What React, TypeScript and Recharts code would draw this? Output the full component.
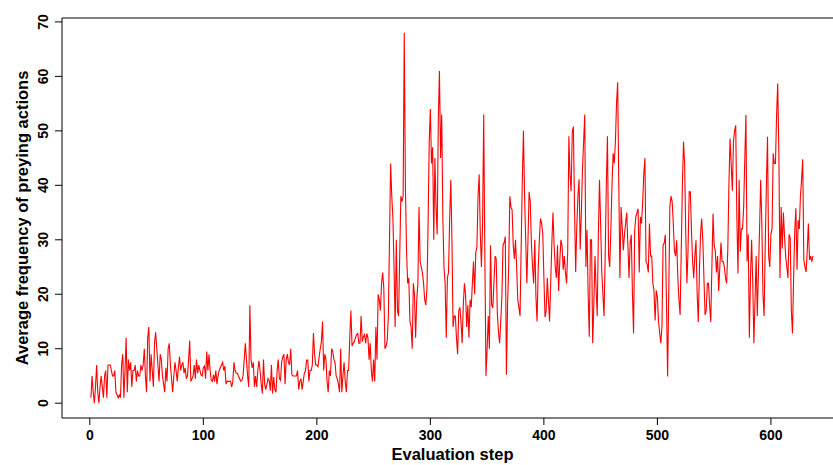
import React from 'react'
import { LineChart, Line, XAxis, YAxis, ReferenceLine } from 'recharts'

// ── data (one value per evaluation step) ──
// steps 1-250: low, noisy phase
const freqEarly = [
  1, 5, 2, 0, 3, 7, 2, 0, 3, 5,
  3, 1, 5, 6, 1, 7, 7, 7, 6, 5,
  5, 6, 2, 1.5, 1, 1.5, 1, 7, 9, 1,
  6, 12, 2, 8, 6, 7.5, 3, 6, 6, 7,
  4, 6, 5, 5, 7, 6, 7, 10, 5, 2,
  12, 14, 4, 9, 6, 3, 11, 13, 10, 7, 4,
  9, 8, 5, 3.5, 2, 6.5, 4, 10, 11,
  7, 4.5, 2, 5, 7.5, 6, 4, 6.5, 8.5, 6,
  7, 7.5, 5.5, 6.5, 4.5, 5, 8, 11.5, 4, 4.5,
  5, 7, 4.5, 8, 5.5, 7, 6, 5.2, 5, 6.5,
  6.8, 4.5, 9.5, 6, 9, 6, 4.2, 4, 5.2, 4,
  6, 3.5, 5, 6, 6.5, 7, 7.5, 6, 6.8, 3.5,
  4, 4, 4, 4, 3, 4,
  7.5, 6, 5.5, 5.5, 5, 4.5, 4, 4.2, 5, 8, 11, 8, 5, 3,
  18, 8, 6.5, 7.5, 3, 5, 3, 6, 7.8, 6,
  3.5, 1.8, 8, 3.5, 2.5, 3.5, 4.5, 4.2, 2.3, 7,
  1.8, 4.8, 2.5, 2, 6, 8, 4.5, 4.2, 7.5, 8.5,
  9, 3.5, 8, 9, 7.5, 7, 10, 5.2, 5, 5,
  5, 5, 6, 2.5, 4, 4.5, 2.5, 4, 5.5, 6,
  7.9, 7.9, 4, 6, 6, 7, 12.9, 9, 7, 7,
  6.7, 8.5, 10, 11.3, 15, 6, 9, 8, 4, 2,
  6, 5, 10, 9.5, 8, 7.5, 5, 4.5, 3.5, 2,
  10, 2, 5, 7.5, 4, 2, 6, 6, 12, 17,
  10.5, 11, 11.3, 12, 12.6, 12.8, 11, 11, 16, 11.3,
  12.2, 12.6, 11, 12.8, 12, 8, 11, 6, 4, 8,
]

// steps 251-320: sharp rise
const freqRise = [
  4, 14, 8, 20,
  19, 17, 22, 24, 21, 10,
  10.5, 11.5, 16, 30, 44, 38, 34, 25, 14, 30,
  17, 16, 27, 38, 37, 38, 68, 40, 28, 22,
  23, 15, 14, 10, 22, 20, 12, 19, 22, 36,
  26, 25, 24, 22, 19, 18, 21, 33, 48, 54,
  44, 47, 30, 45, 36, 31, 52, 61, 45, 53,
  34, 25, 22, 12, 23, 24, 34, 41, 30, 14,
]

// steps 321-637: high, very noisy phase
const freqLate = [
  16, 16, 12, 9, 17, 17.6, 15, 11, 18, 22,
  20, 14, 18, 12, 19, 17.6, 22, 26, 20, 27.7,
  28.6, 38, 42, 31, 25, 33, 53, 27, 5, 10,
  16, 10, 29, 18, 17.5, 22, 27, 26.5, 16.5, 13,
  11, 15, 19.5, 29, 29.5, 30.6, 5.2, 18, 25, 38,
  36, 35.5, 29, 26.5, 30, 25, 19, 17.5, 16, 28.8,
  41, 50,
  38, 30, 22, 30, 38.8, 37, 29.4, 25,
  22, 30, 19.6, 15, 24.5, 30, 33.9, 33, 31.3, 23.2,
  15.8, 17, 23, 19, 15, 22, 29.3, 35, 29, 25,
  23, 29, 20.6, 26, 30, 29, 24.5, 27, 24, 22,
  28, 49, 42, 38.9, 49.8, 50.8, 36, 24.1, 32.5, 38,
  41.1, 28.2, 35, 42.8, 48, 53, 25, 31.8, 20, 12.2,
  30, 30, 11, 18, 27, 21, 16,
  31, 41, 33, 24, 20, 16, 27, 40, 49, 27, 25, 31.8, 40,
  45.9, 44, 48, 55, 58.9, 40, 23, 36, 32.4, 28.1,
  31, 33, 35, 29, 23, 29.4, 30.9, 20.1, 12.8, 31.8,
  34.2, 35, 35.7, 24, 34.2, 33, 36.7, 42, 45, 26,
  25.5, 24, 33, 27, 27, 22, 20.7, 15.2, 20.7, 19.5,
  15, 13, 11, 14, 29, 29.4, 30.9, 18.3, 4.9, 20, 36.2, 38,
  37, 33, 28, 27, 29.9, 23, 19, 16.2,
  28, 40, 48, 44, 31, 22, 28, 38.8, 38.8, 32,
  26, 23, 27, 29.9, 20.3, 14.9, 24, 31, 33.9, 30,
  23, 16.2, 17, 22, 22, 18, 14.9, 25, 34.8, 29,
  28, 24, 27, 20.6, 25, 29.5, 26, 26, 25, 23,
  22, 28, 40, 48.6, 44, 39, 48, 50, 51, 34,
  23.8, 41, 27.8, 32,
  32, 36, 45, 52.9, 26, 31,
  12, 23, 30, 22, 11, 19, 27, 16, 24, 32,
  41, 33, 20, 16, 29, 40, 48.9, 27, 25, 31,
  32, 45.9, 44, 44, 53, 58.7, 46, 23, 36, 28.4,
  35, 30.6, 27, 25, 23, 31, 30.3, 17, 12.8, 23,
  31.8, 35.8, 24.5, 33.6, 32, 38, 41, 44.8, 26.3, 25,
  24.1, 28, 33, 26.3, 27, 26, 27,
]

const X_TICKS = [0, 100, 200, 300, 400, 500, 600]
const Y_TICKS = [0, 10, 20, 30, 40, 50, 60, 70]

const freq = [...freqEarly, ...freqRise, ...freqLate]
const data = freq.map((v, i) => ({ step: i + 1, freq: v }))

// R-style axis ranges (4% padding around the data)
const X_DOMAIN: [number, number] = [-24.5, 663.5]
const Y_DOMAIN: [number, number] = [-2.72, 70.72]

const FONT = '"Liberation Sans", Arial, Helvetica, sans-serif'

// eslint-disable-next-line @typescript-eslint/no-explicit-any
function XTick({ x, y, payload }: any) {
  return (
    <text x={x} y={y} dy="0.71em" textAnchor="middle" fill="#000"
      fontSize={14} fontWeight="bold" fontFamily={FONT}>
      {payload.value}
    </text>
  )
}

// eslint-disable-next-line @typescript-eslint/no-explicit-any
function YTick({ x, y, payload }: any) {
  return (
    <text x={x} y={y} textAnchor="middle" fill="#000"
      fontSize={14} fontWeight="bold" fontFamily={FONT}
      transform={`rotate(-90, ${x}, ${y})`}>
      {payload.value}
    </text>
  )
}

export default function App() {
  return (
    <div style={{
      position: 'fixed', left: 0, top: 0, width: 833, height: 465,
      overflow: 'hidden', background: '#fff', fontFamily: FONT,
    }}>
      <LineChart width={853} height={465} data={data}
        margin={{ top: 18, right: 10, bottom: 0, left: 0 }}>
        <XAxis
          dataKey="step"
          type="number"
          domain={X_DOMAIN}
          ticks={X_TICKS}
          tick={<XTick />}
          tickSize={7}
          tickMargin={5}
          height={47}
          axisLine={{ stroke: '#000' }}
          tickLine={{ stroke: '#000' }}
          allowDataOverflow
        />
        <YAxis
          type="number"
          domain={Y_DOMAIN}
          ticks={Y_TICKS}
          tick={<YTick />}
          tickSize={7}
          tickMargin={7}
          width={62}
          axisLine={{ stroke: '#000' }}
          tickLine={{ stroke: '#000' }}
          allowDataOverflow
        />
        {/* top edge of the box */}
        <ReferenceLine y={Y_DOMAIN[1]} stroke="#000" />
        <Line
          type="linear"
          dataKey="freq"
          stroke="#ff0000"
          strokeWidth={1.1}
          dot={false}
          isAnimationActive={false}
        />
      </LineChart>

      {/* axis titles */}
      <div style={{
        position: 'absolute', left: 62, width: 781, top: 445,
        textAlign: 'center', fontSize: 16.5, fontWeight: 'bold', lineHeight: '18px',
      }}>
        Evaluation step
      </div>
      <div style={{
        position: 'absolute', left: 22, top: 218, width: 400, marginLeft: -200,
        marginTop: -9, textAlign: 'center', fontSize: 16.5, fontWeight: 'bold',
        lineHeight: '18px', transform: 'rotate(-90deg)',
      }}>
        Average frequency of preying actions
      </div>
    </div>
  )
}
